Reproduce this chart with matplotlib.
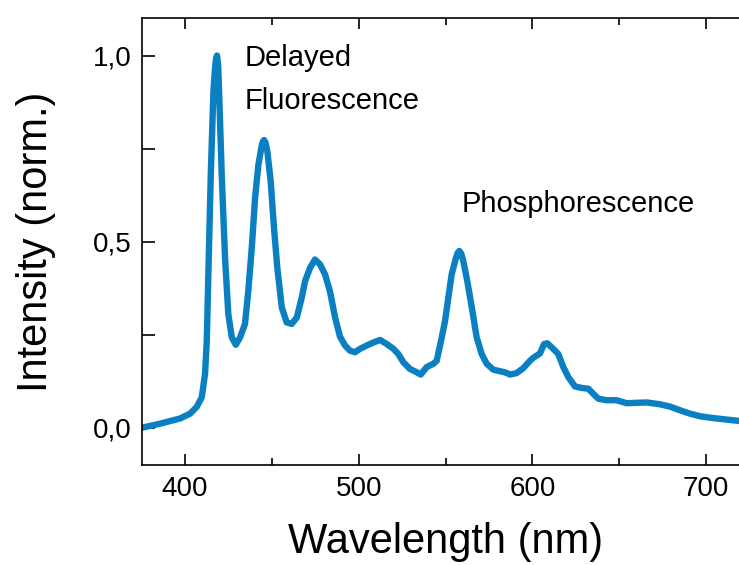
import numpy as np
import matplotlib.pyplot as plt
from matplotlib.ticker import MultipleLocator, FuncFormatter

plt.rcParams['font.family'] = ['Liberation Sans', 'DejaVu Sans']

# emission spectrum (normalised), read point by point
wavelength = [375.0, 385.6, 397.1, 402.9, 406.7, 409.6, 411.5, 412.5, 413.4, 414.8,
              416.3, 417.2, 417.8, 418.4, 419.0, 419.4, 421.1, 423.0, 424.9, 426.9,
              429.2, 431.7, 434.5, 436.4, 438.4, 440.3, 442.2, 444.2, 444.9, 445.5,
              446.3, 447.4, 449.3, 451.2, 453.1, 455.7, 458.5, 461.4, 464.3, 467.2,
              469.1, 472.0, 474.8, 477.7, 480.6, 483.5, 486.4, 489.2, 492.1, 495.0,
              497.9, 500.7, 504.6, 508.4, 512.3, 516.1, 520.0, 522.8, 525.7, 529.5,
              533.4, 535.7, 539.1, 543.0, 544.9, 547.8, 549.7, 551.6, 553.5, 556.0,
              557.0, 557.9, 559.0, 560.2, 562.5, 565.1, 567.9, 570.8, 573.7, 577.5,
              581.3, 584.2, 587.1, 590.9, 594.7, 598.6, 600.5, 604.4, 606.7, 608.6,
              612.0, 614.9, 617.8, 620.7, 624.5, 628.4, 632.2, 635.1, 638.0, 642.8,
              648.5, 654.3, 660.0, 665.8, 673.5, 679.2, 685.0, 690.7, 696.5, 702.3,
              708.1, 715.7, 720.0]
intensity = [0.000, 0.011, 0.025, 0.038, 0.056, 0.082, 0.145, 0.234, 0.412, 0.680,
             0.902, 0.965, 0.991, 1.000, 0.975, 0.930, 0.680, 0.457, 0.305, 0.243,
             0.223, 0.243, 0.279, 0.368, 0.483, 0.617, 0.706, 0.760, 0.770, 0.773,
             0.766, 0.742, 0.662, 0.537, 0.430, 0.323, 0.283, 0.279, 0.296, 0.350,
             0.394, 0.430, 0.452, 0.439, 0.412, 0.365, 0.296, 0.245, 0.221, 0.207,
             0.203, 0.212, 0.221, 0.229, 0.236, 0.225, 0.212, 0.198, 0.176, 0.158,
             0.149, 0.143, 0.163, 0.172, 0.180, 0.243, 0.287, 0.350, 0.412, 0.457,
             0.470, 0.475, 0.468, 0.448, 0.394, 0.323, 0.243, 0.198, 0.172, 0.156,
             0.152, 0.149, 0.143, 0.147, 0.160, 0.180, 0.188, 0.200, 0.225, 0.227,
             0.212, 0.198, 0.163, 0.136, 0.111, 0.107, 0.105, 0.091, 0.078, 0.074,
             0.074, 0.066, 0.067, 0.068, 0.063, 0.057, 0.047, 0.038, 0.031, 0.027,
             0.024, 0.020, 0.018]

fig = plt.figure(figsize=(7.39, 5.65), dpi=100)
ax = fig.add_axes([0.1917, 0.177, 0.8225, 0.7906])

ax.plot(wavelength, intensity, color='#0a80c2', lw=4.6, solid_capstyle='round',
        solid_joinstyle='round')

ax.set_xlim(375, 725)
ax.set_ylim(-0.1, 1.1)

ax.xaxis.set_major_locator(MultipleLocator(100))
ax.xaxis.set_minor_locator(MultipleLocator(50))
ax.yaxis.set_major_locator(MultipleLocator(0.5))
ax.yaxis.set_minor_locator(MultipleLocator(0.25))
ax.yaxis.set_major_formatter(FuncFormatter(lambda v, p: f"{v:.1f}".replace('.', ',')))

ax.tick_params(which='both', direction='in', top=True, right=False, width=1.2,
               labelsize=20, colors='black')
ax.tick_params(axis='x', which='major', length=8, pad=8)
ax.tick_params(axis='x', which='minor', length=5)
ax.tick_params(axis='y', which='both', length=9, pad=7)
for s in ax.spines.values():
    s.set_linewidth(1.2)

ax.set_xlabel('Wavelength (nm)', fontsize=30, labelpad=14)
ax.set_ylabel('Intensity (norm.)', fontsize=30, labelpad=27)

ax.text(434.5, 0.972, 'Delayed', fontsize=21, va='baseline', ha='left')
ax.text(434.5, 0.856, 'Fluorescence', fontsize=21, va='baseline', ha='left')
ax.text(559.3, 0.579, 'Phosphorescence', fontsize=21, va='baseline', ha='left')

fig.savefig('out.png', dpi=100)
